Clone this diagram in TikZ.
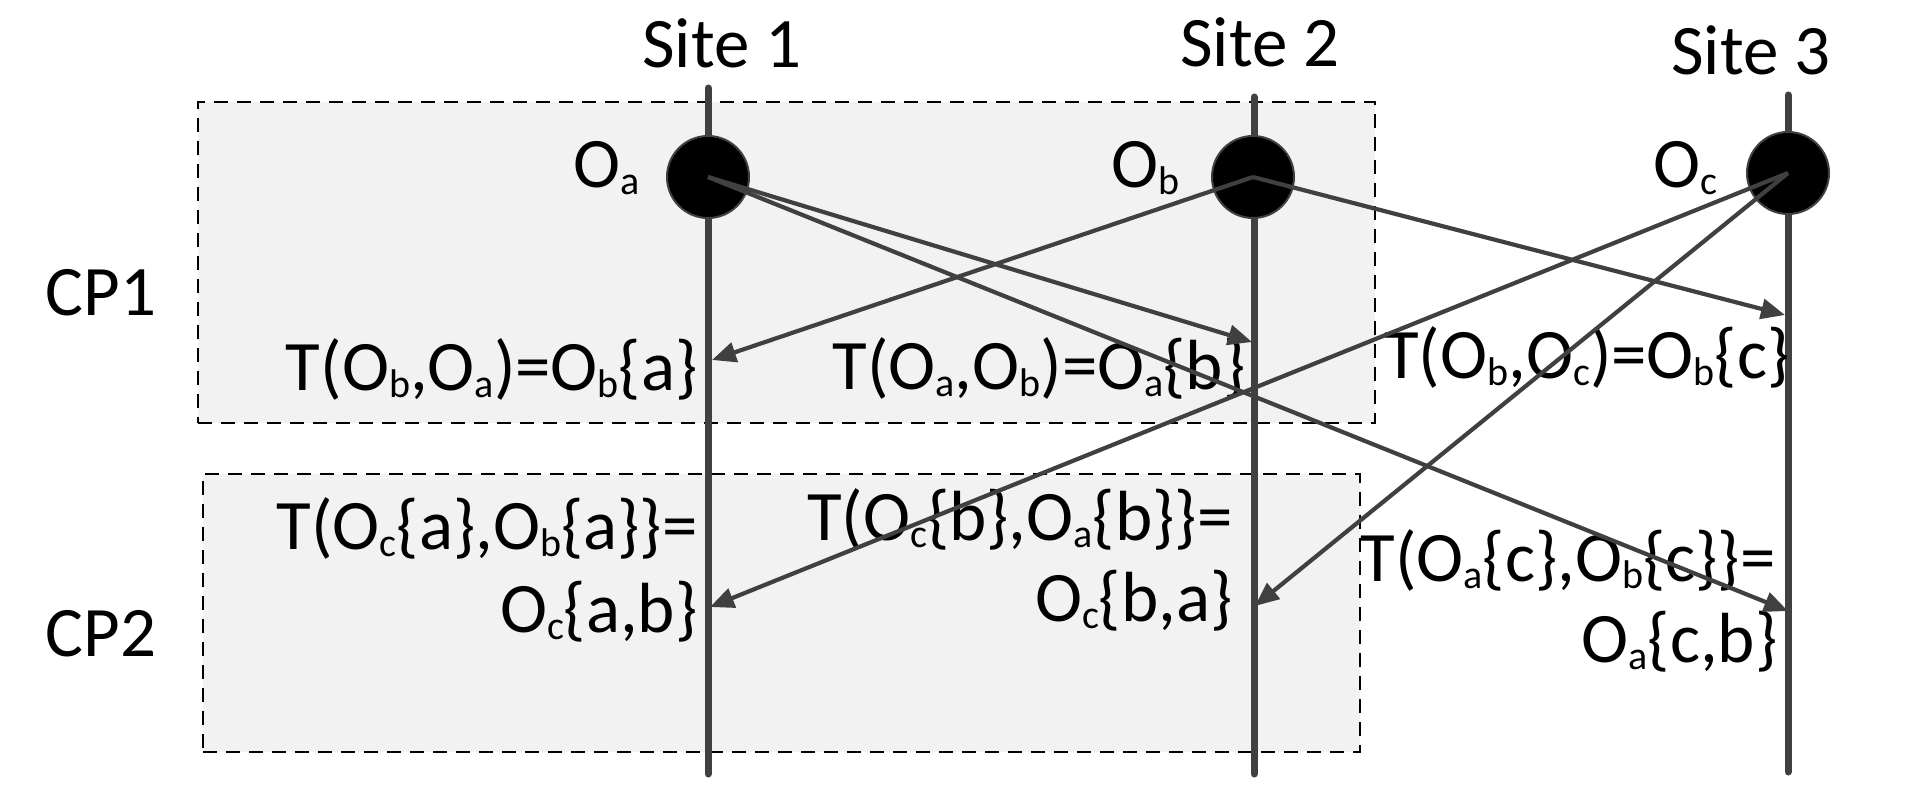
\documentclass[tikz,border=0pt]{standalone}
\usepackage{fontspec}
\setmainfont{Carlito}
\usetikzlibrary{arrows.meta}
\definecolor{lc}{HTML}{404040}
\definecolor{boxfill}{HTML}{F2F2F2}
\newcommand{\sbs}[1]{\raisebox{-0.11em}{\fontsize{20}{22}\selectfont #1}}
\begin{document}
\begin{tikzpicture}[x=0.5pt,y=-0.5pt,
  lbl/.style={inner sep=0pt, font=\fontsize{35.5}{40}\selectfont},
  cpbox/.style={draw=black, fill=boxfill, dash pattern=on 7pt off 4.5pt, line width=1.2pt},
  siteline/.style={draw=lc, line width=3.5pt, line cap=round},
  obj/.style={circle, fill=black, draw=lc, line width=1pt, minimum size=41pt, inner sep=0pt},
  msg/.style={draw=lc, line width=2.1pt, -{Triangle[length=12pt,width=10pt]}}]
\useasboundingbox (0,0) rectangle (1918,808);
% boxes
\node[cpbox, minimum width=588.5pt, minimum height=160.5pt, anchor=north west, inner sep=0pt] (cp1box) at (197,101) {};
\node[cpbox, minimum width=578.5pt, minimum height=139pt, anchor=north west, inner sep=0pt] (cp2box) at (202,473) {};
% site lines
\coordinate (s1t) at (708,88);  \coordinate (s1b) at (708,774);
\coordinate (s2t) at (1254,97); \coordinate (s2b) at (1254,774);
\coordinate (s3t) at (1788,95); \coordinate (s3b) at (1788,772);
\draw[siteline] (s1t) -- (s1b);
\draw[siteline] (s2t) -- (s2b);
\draw[siteline] (s3t) -- (s3b);
% site labels
\node[lbl, anchor=base] (site1) at (722,68) {Site 1};
\node[lbl, anchor=base] (site2) at (1260,67) {Site 2};
\node[lbl, anchor=base] (site3) at (1751,75) {Site 3};
% objects
\node[obj] (oa) at (708,177) {};
\node[obj] (ob) at (1253,177) {};
\node[obj] (oc) at (1788,173) {};
\node[lbl, anchor=base east] (oalbl) at (640,187) {O\sbs{a}};
\node[lbl, anchor=base east] (oblbl) at (1180,187) {O\sbs{b}};
\node[lbl, anchor=base east] (oclbl) at (1718,187) {O\sbs{c}};
% phase labels
\node[lbl, anchor=base] (cp1) at (101,315) {CP1};
\node[lbl, anchor=base] (cp2) at (101,656) {CP2};
% transformation labels
\node[lbl, anchor=base east] (t1) at (698,390) {T(O\sbs{b},O\sbs{a})=O\sbs{b}\{a\}};
\node[lbl, anchor=base east] (t2) at (1246,389) {T(O\sbs{a},O\sbs{b})=O\sbs{a}\{b\}};
\node[lbl, anchor=base east] (t3) at (1790,378) {T(O\sbs{b},O\sbs{c})=O\sbs{b}\{c\}};
\node[lbl, anchor=base east] (t4a) at (698,549) {T(O\sbs{c}\{a\},O\sbs{b}\{a\}\}=};
\node[lbl, anchor=base east] (t4b) at (698,632) {O\sbs{c}\{a,b\}};
\node[lbl, anchor=base east] (t5a) at (1233,540) {T(O\sbs{c}\{b\},O\sbs{a}\{b\}\}=};
\node[lbl, anchor=base east] (t5b) at (1233,621) {O\sbs{c}\{b,a\}};
\node[lbl, anchor=base east] (t6a) at (1776,581) {T(O\sbs{a}\{c\},O\sbs{b}\{c\}\}=};
\node[lbl, anchor=base east] (t6b) at (1778,662) {O\sbs{a}\{c,b\}};
% arrow end points
\coordinate (e12) at (1252,342);
\coordinate (e13) at (1788,611);
\coordinate (e21) at (712,360);
\coordinate (e23) at (1785,315);
\coordinate (e31) at (710,607);
\coordinate (e32) at (1255,606);
\draw[msg] (oa.center) -- (e12);
\draw[msg] (oa.center) -- (e13);
\draw[msg] (ob.center) -- (e21);
\draw[msg] (ob.center) -- (e23);
\draw[msg] (oc.center) -- (e31);
\draw[msg] (oc.center) -- (e32);
\end{tikzpicture}
\end{document}
